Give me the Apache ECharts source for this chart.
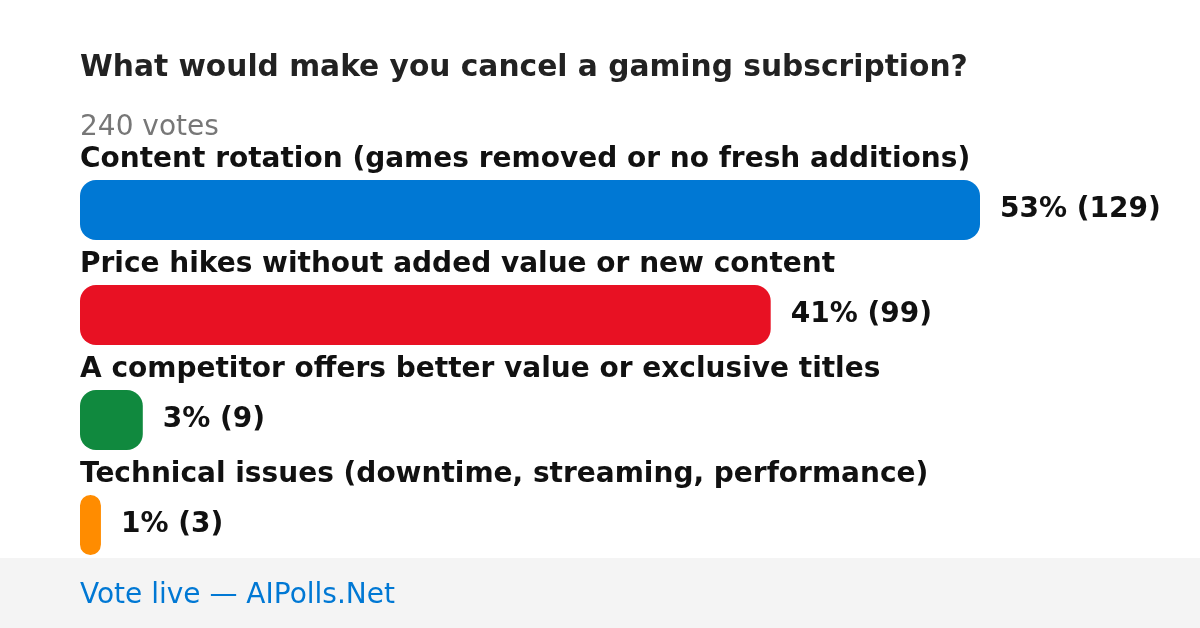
<!DOCTYPE html>
<html>
<head>
<meta charset="utf-8">
<script src="https://cdn.jsdelivr.net/npm/echarts@6/dist/echarts.min.js"></script>
<style>html,body{margin:0;padding:0;background:#fff}#c{width:1200px;height:628px}</style>
</head>
<body>
<div id="c"></div>
<script>
const titleText = 'What would make you cancel a gaming subscription?';
const subtitleText = '240 votes';
const footerText = 'Vote live \u2014 AIPolls.Net';
const categories = [
  'Content rotation (games removed or no fresh additions)',
  'Price hikes without added value or new content',
  'A competitor offers better value or exclusive titles',
  'Technical issues (downtime, streaming, performance)'
];
const votes = [129, 99, 9, 3];
const percents = [53, 41, 3, 1];
const colors = ['#0078d4', '#e81123', '#10893e', '#ff8c00'];

const FONT = 'DejaVu Sans';
const chart = echarts.init(document.getElementById('c'), null, {renderer: 'canvas'});
chart.setOption({
  backgroundColor: '#ffffff',
  animation: false,
  title: [
    {text: titleText, left: 80, top: 53.5, padding: 0, textStyle: {fontFamily: FONT, fontSize: 29.7, fontWeight: 'bold', color: '#222222'}},
    {text: subtitleText, left: 80, top: 114, padding: 0, textStyle: {fontFamily: FONT, fontSize: 28, fontWeight: 'normal', color: '#777777'}}
  ],
  grid: {left: 80, top: 157.5, width: 900, height: 420, containLabel: false},
  xAxis: {type: 'value', min: 0, max: votes[0], show: false},
  yAxis: {
    type: 'category', data: categories, inverse: true,
    axisLine: {show: false}, axisTick: {show: false}, splitLine: {show: false},
    axisLabel: {
      inside: true, margin: 0, align: 'left', verticalAlign: 'bottom',
      padding: [0, 0, 36, 0], lineHeight: 28,
      fontFamily: FONT, fontSize: 28, fontWeight: 'bold', color: '#111111'
    },
    z: 5
  },
  series: [{
    type: 'bar',
    barWidth: 60,
    data: votes.map((v, i) => ({value: v, itemStyle: {color: colors[i]}})),
    itemStyle: {borderRadius: 16},
    label: {
      show: true, position: 'right', distance: 20,
      fontFamily: FONT, fontSize: 28, fontWeight: 'bold', color: '#111111',
      formatter: p => percents[p.dataIndex] + '% (' + votes[p.dataIndex] + ')'
    }
  }],
  graphic: [
    {type: 'rect', left: 0, top: 558, shape: {width: 1200, height: 70}, style: {fill: '#f4f4f4'}, z: -1},
    {type: 'text', left: 80, top: 581.5, style: {text: footerText, fontFamily: FONT, fontSize: 28, fill: '#0078d4'}}
  ]
});
</script>
</body>
</html>
